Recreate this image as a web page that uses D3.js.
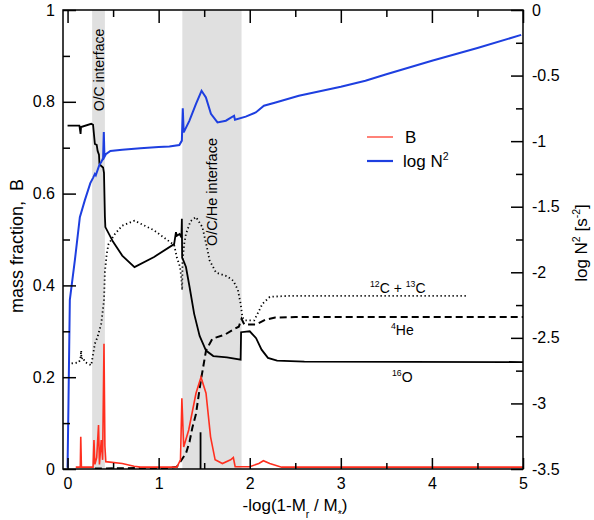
<!DOCTYPE html>
<html>
<head>
<meta charset="utf-8">
<script src="https://cdn.jsdelivr.net/npm/d3@7"></script>
<style>
  body { margin: 0; background: #fff; }
  svg { font-family: "Liberation Sans", Arial, Helvetica, sans-serif; }
</style>
</head>
<body>
<div id="chart"></div>
<script>
// tick values
const xMajor = [0, 1, 2, 3, 4, 5];
const xMinor = [0.5, 1.5, 2.5, 3.5, 4.5];
const leftMajor = [0, 0.2, 0.4, 0.6, 0.8, 1];
const leftMinor = [0.1, 0.3, 0.5, 0.7, 0.9];
const rightMajor = [0, -0.5, -1, -1.5, -2, -2.5, -3, -3.5];
const rightMinor = [-0.25, -0.75, -1.25, -1.75, -2.25, -2.75, -3.25];

// shaded interfaces [from, to] in -log(1-Mr/M*)
const bands = [[0.27, 0.41], [1.26, 1.91]];
const bandNames = ["O/C interface", "O/C/He interface"];

// 16O mass fraction (solid)
const o16 = [[0.0,0.748],[0.13,0.748],[0.143,0.73],[0.148,0.745],[0.26,0.752],[0.28,0.75],[0.30,0.708],
  [0.32,0.706],[0.33,0.693],[0.345,0.685],[0.35,0.665],[0.37,0.66],[0.39,0.657],[0.40,0.645],[0.41,0.55],
  [0.415,0.527],[0.5,0.495],[0.6,0.465],[0.735,0.44],[0.95,0.462],[1.17,0.49],[1.19,0.516],[1.2,0.508],
  [1.23,0.512],[1.25,0.505],[1.255,0.545],[1.258,0.46],[1.27,0.455],[1.30,0.44],[1.34,0.396],[1.39,0.338],
  [1.45,0.29],[1.52,0.258],[1.6,0.246],[1.75,0.243],[1.9,0.238],[1.905,0.298],[2.0,0.3],[2.07,0.285],
  [2.13,0.26],[2.2,0.242],[2.3,0.236],[2.6,0.234],[5,0.233]];

// 4He mass fraction (dashed)
const he4 = [[0.30,0.001],[0.75,0.002],[1.1,0.002],[1.2,0.005],[1.3,0.034],[1.34,0.06],[1.37,0.09],
  [1.41,0.12],[1.45,0.175],[1.47,0.2],[1.52,0.258],[1.59,0.284],[1.73,0.293],[1.83,0.305],[1.88,0.31],
  [1.91,0.327],[1.94,0.315],[2.07,0.315],[2.17,0.325],[2.28,0.33],[2.5,0.331],[5,0.331]];

// 12C+13C mass fraction (dotted)
const c12 = [[0.044,0.23],[0.12,0.232],[0.14,0.238],[0.15,0.258],[0.152,0.24],[0.17,0.243],[0.19,0.233],
  [0.26,0.226],[0.30,0.273],[0.33,0.288],[0.37,0.317],[0.40,0.367],[0.41,0.43],[0.43,0.469],[0.45,0.49],
  [0.52,0.512],[0.6,0.53],[0.735,0.541],[0.95,0.52],[1.17,0.488],[1.2,0.461],[1.235,0.44],[1.25,0.415],
  [1.258,0.39],[1.262,0.45],[1.28,0.49],[1.3,0.512],[1.35,0.54],[1.41,0.549],[1.48,0.527],[1.53,0.483],
  [1.56,0.454],[1.63,0.428],[1.75,0.42],[1.82,0.41],[1.87,0.39],[1.9,0.36],[1.92,0.33],[1.95,0.324],
  [2.05,0.324],[2.14,0.36],[2.22,0.375],[2.4,0.377],[4.38,0.377]];

// Ledoux term B (red)
const bLedoux = [[0.09,0.004],[0.14,0.004],[0.145,0.07],[0.152,0.004],[0.28,0.004],[0.29,0.063],[0.30,0.01],
  [0.32,0.025],[0.34,0.096],[0.35,0.01],[0.37,0.063],[0.385,0.02],[0.40,0.273],[0.41,0.05],[0.42,0.016],
  [0.6,0.012],[0.73,0.006],[0.8,0.004],[1.2,0.004],[1.24,0.02],[1.255,0.154],[1.275,0.048],[1.33,0.085],
  [1.41,0.165],[1.465,0.2],[1.52,0.165],[1.57,0.07],[1.62,0.02],[1.7,0.012],[1.79,0.02],[1.82,0.025],
  [1.84,0.005],[2.0,0.005],[2.1,0.012],[2.15,0.018],[2.22,0.012],[2.35,0.004],[5,0.004]];

// log N^2 (blue, right axis)
const logN2 = [[0.0,-3.49],[0.01,-3.0],[0.025,-2.21],[0.08,-1.91],[0.135,-1.58],[0.19,-1.45],[0.25,-1.32],
  [0.28,-1.28],[0.30,-1.25],[0.31,-1.26],[0.35,-1.18],[0.37,-1.16],[0.39,-1.13],[0.398,-0.93],[0.405,-1.12],
  [0.42,-1.10],[0.47,-1.075],[0.6,-1.065],[0.8,-1.055],[1.0,-1.045],[1.118,-1.04],[1.227,-1.03],
  [1.255,-0.996],[1.265,-0.75],[1.275,-0.933],[1.337,-0.845],[1.41,-0.715],[1.471,-0.616],[1.519,-0.667],
  [1.574,-0.791],[1.646,-0.857],[1.738,-0.844],[1.828,-0.806],[1.838,-0.836],[1.956,-0.813],[2.066,-0.781],
  [2.156,-0.73],[2.284,-0.705],[2.539,-0.654],[3.0,-0.585],[3.27,-0.54],[3.5,-0.49],[4.0,-0.387],
  [4.5,-0.29],[4.98,-0.19]];

// short black mark at the B peak
const peakMark = [[1.46,0],[1.46,0.08]];

const width = 594, height = 520;
const mLeft = 63, mRight = 523, mTop = 10, mBottom = 469;
const blue = "#1e3fe0", red = "#ff2f1f";

const svg = d3.select("#chart").append("svg")
  .attr("width", width).attr("height", height);

const x = d3.scaleLinear().domain([-0.05, 5]).range([mLeft, mRight]);
const yL = d3.scaleLinear().domain([0, 1]).range([mBottom, mTop]);
const yR = d3.scaleLinear().domain([-3.5, 0]).range([mBottom, mTop]);

svg.append("clipPath").attr("id", "clip")
  .append("rect").attr("x", mLeft).attr("y", mTop).attr("width", mRight - mLeft).attr("height", mBottom - mTop);

// grey bands
svg.selectAll(".band").data(bands).enter().append("rect")
  .attr("x", d => x(d[0])).attr("width", d => x(d[1]) - x(d[0]))
  .attr("y", mTop).attr("height", mBottom - mTop)
  .attr("fill", "#e0e0e0");

const plot = svg.append("g").attr("clip-path", "url(#clip)");
const lineL = d3.line().x(d => x(d[0])).y(d => yL(d[1]));
const lineR = d3.line().x(d => x(d[0])).y(d => yR(d[1]));

plot.append("path").attr("d", lineL(c12)).attr("fill", "none").attr("stroke", "#000")
  .attr("stroke-width", 1.8).attr("stroke-dasharray", "1.3,2.7");
plot.append("path").attr("d", lineL(he4)).attr("fill", "none").attr("stroke", "#000")
  .attr("stroke-width", 2).attr("stroke-dasharray", "7,4");
plot.append("path").attr("d", lineL(o16)).attr("fill", "none").attr("stroke", "#000")
  .attr("stroke-width", 1.8);
plot.append("path").attr("d", lineL(peakMark)).attr("fill", "none").attr("stroke", "#000")
  .attr("stroke-width", 1.8);
plot.append("path").attr("d", lineL(bLedoux)).attr("fill", "none").attr("stroke", red)
  .attr("stroke-width", 1.6);
plot.append("path").attr("d", lineR(logN2)).attr("fill", "none").attr("stroke", blue)
  .attr("stroke-width", 2);

// frame
svg.append("rect").attr("x", mLeft).attr("y", mTop).attr("width", mRight - mLeft).attr("height", mBottom - mTop)
  .attr("fill", "none").attr("stroke", "#000").attr("stroke-width", 1.5);

const fmt = d => String(d);
function axis(gen, tr) {
  const g = svg.append("g").attr("transform", tr).call(gen);
  g.select(".domain").remove();
  g.selectAll("line").attr("stroke-width", 1.5);
  g.selectAll("text").attr("font-size", 16).attr("fill", "#000");
  return g;
}
axis(d3.axisBottom(x).tickValues(xMajor).tickSize(-11).tickPadding(9).tickFormat(fmt), `translate(0,${mBottom})`);
axis(d3.axisBottom(x).tickValues(xMinor).tickSize(-6).tickFormat(""), `translate(0,${mBottom})`);
axis(d3.axisTop(x).tickValues(xMajor).tickSize(-13).tickFormat(""), `translate(0,${mTop})`);
axis(d3.axisTop(x).tickValues(xMinor).tickSize(-7).tickFormat(""), `translate(0,${mTop})`);
axis(d3.axisLeft(yL).tickValues(leftMajor).tickSize(-13).tickPadding(8).tickFormat(fmt), `translate(${mLeft},0)`);
axis(d3.axisLeft(yL).tickValues(leftMinor).tickSize(-7).tickFormat(""), `translate(${mLeft},0)`);
axis(d3.axisRight(yR).tickValues(rightMajor).tickSize(-12).tickPadding(9).tickFormat(fmt), `translate(${mRight},0)`);
axis(d3.axisRight(yR).tickValues(rightMinor).tickSize(-7).tickFormat(""), `translate(${mRight},0)`);

// text with super/subscripts: parts = [[text, shift]], shift 0 normal, -1 sup, 1 sub
function rich(sel, parts, size) {
  let cur = 0;
  parts.forEach(([t, s]) => {
    const target = s * size * 0.4;
    sel.append("tspan").attr("dy", target - cur)
      .attr("font-size", s ? size * 0.62 : size).text(t);
    cur = target;
  });
}

// axis titles
const xt = svg.append("text").attr("x", 295).attr("y", 511).attr("text-anchor", "middle").attr("font-size", 17);
rich(xt, [["-log(1-M", 0], ["r", 1], [" / M", 0], ["*", 1], [")", 0]], 17);

svg.append("text").attr("transform", "translate(23,246) rotate(-90)").attr("text-anchor", "middle")
  .attr("font-size", 18).attr("xml:space", "preserve").text("mass fraction,  B");

const yt = svg.append("text").attr("transform", "translate(587,243) rotate(-90)").attr("text-anchor", "middle")
  .attr("font-size", 17);
rich(yt, [["log N", 0], ["2", -1], [" [s", 0], ["-2", -1], ["]", 0]], 17);

// band labels
svg.append("text").attr("transform", `translate(${(x(bands[0][0]) + x(bands[0][1])) / 2 + 5},70) rotate(-90)`)
  .attr("text-anchor", "middle").attr("font-size", 14).text(bandNames[0]);
svg.append("text").attr("transform", `translate(${(x(bands[1][0]) + x(bands[1][1])) / 2 + 5},192) rotate(-90)`)
  .attr("text-anchor", "middle").attr("font-size", 14.5).text(bandNames[1]);

// curve labels
rich(svg.append("text").attr("x", 370).attr("y", 293).attr("font-size", 14),
  [["12", -1], ["C + ", 0], ["13", -1], ["C", 0]], 14);
rich(svg.append("text").attr("x", 391).attr("y", 335).attr("font-size", 14),
  [["4", -1], ["He", 0]], 14);
rich(svg.append("text").attr("x", 392).attr("y", 382).attr("font-size", 14),
  [["16", -1], ["O", 0]], 14);

// legend
const legend = svg.append("g");
legend.append("line").attr("x1", 367).attr("x2", 393).attr("y1", 137).attr("y2", 137)
  .attr("stroke", red).attr("stroke-width", 1.2);
legend.append("text").attr("x", 405).attr("y", 143).attr("font-size", 17).text("B");
legend.append("line").attr("x1", 367).attr("x2", 393).attr("y1", 161).attr("y2", 161)
  .attr("stroke", blue).attr("stroke-width", 2.2);
rich(legend.append("text").attr("x", 403).attr("y", 167).attr("font-size", 17),
  [["log N", 0], ["2", -1]], 17);
</script>
</body>
</html>
